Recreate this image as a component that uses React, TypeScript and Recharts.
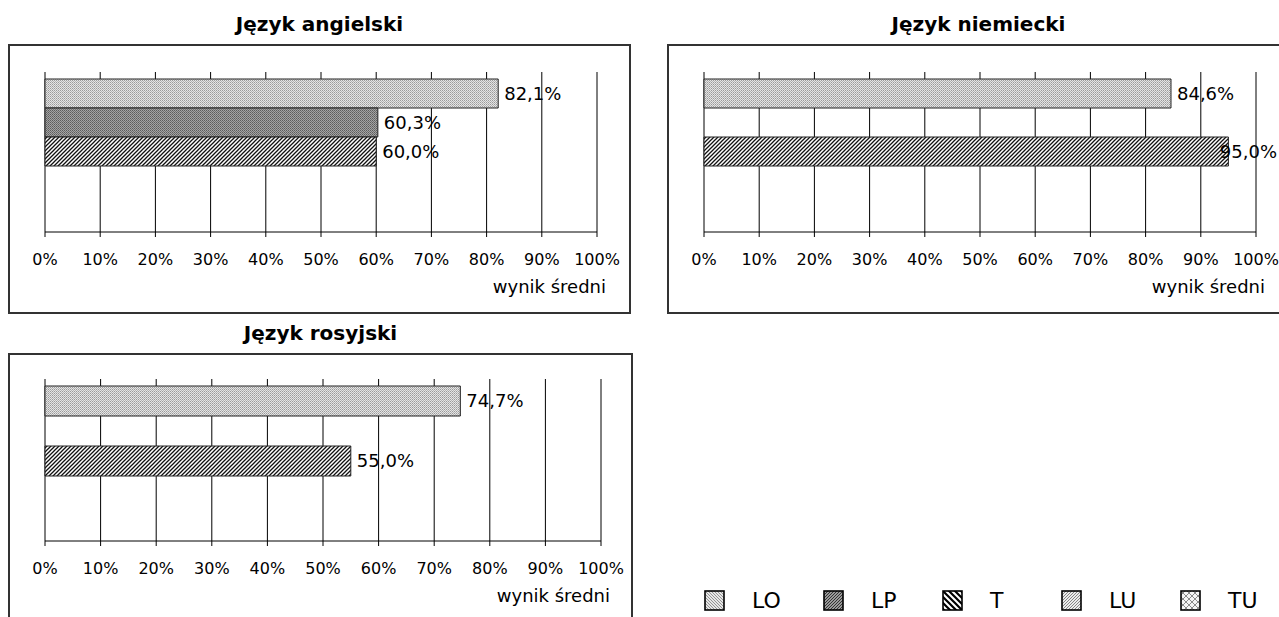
import React from 'react';
import { BarChart, Bar, XAxis, YAxis, CartesianGrid, LabelList } from 'recharts';

// school types (legend order) and mean results per language, in %
const SERIES = ['LO', 'LP', 'T', 'LU', 'TU'];
const ANGIELSKI = [82.1, 60.3, 60.0, null, null];
const NIEMIECKI = [84.6, null, 95.0, null, null];
const ROSYJSKI = [74.7, null, 55.0, null, null];
const TICKS = [0, 10, 20, 30, 40, 50, 60, 70, 80, 90, 100];
const AXIS_TITLE = 'wynik średni';

const FONT = '"DejaVu Sans", "Liberation Sans", sans-serif';
const XAXIS_H = 60;
const LABEL_FS = 18;

const BAR_FILL: Record<string, string> = {
  LO: 'url(#barLO)',
  LP: 'url(#barLP)',
  T: 'url(#barT)',
  LU: 'url(#legLU)',
  TU: 'url(#legTU)',
};
const LEG_FILL: Record<string, string> = {
  LO: 'url(#legLO)',
  LP: 'url(#legLP)',
  T: 'url(#legT)',
  LU: 'url(#legLU)',
  TU: 'url(#legTU)',
};

const fmt = (v: number) => v.toFixed(1).replace('.', ',') + '%';

let ctx: CanvasRenderingContext2D | null = null;
function textWidth(s: string, size: number) {
  if (!ctx) ctx = document.createElement('canvas').getContext('2d');
  if (!ctx) return s.length * size * 0.62;
  ctx.font = `${size}px "DejaVu Sans"`;
  return ctx.measureText(s).width;
}

function PatternDefs() {
  return (
    <svg width={0} height={0} style={{ position: 'absolute', left: 0, top: 0 }}>
      <defs>
        <pattern id="barLO" width={2} height={2} patternUnits="userSpaceOnUse">
          <rect width={2} height={2} fill="#e4e4e4" />
          <rect width={1} height={1} fill="#9a9a9a" />
          <rect x={1} y={1} width={1} height={1} fill="#b4b4b4" />
        </pattern>
        <pattern id="barLP" width={2} height={2} patternUnits="userSpaceOnUse">
          <rect width={2} height={2} fill="#a4a4a4" />
          <rect width={1} height={1} fill="#5c5c5c" />
          <rect x={1} y={1} width={1} height={1} fill="#707070" />
        </pattern>
        <pattern id="barT" width={4} height={4} patternUnits="userSpaceOnUse">
          <rect width={4} height={4} fill="#ffffff" />
          <path d="M-1,1 L1,-1 M0,4 L4,0 M3,5 L5,3" stroke="#111" strokeWidth={1.3} />
        </pattern>
        <pattern id="legLO" width={3} height={3} patternUnits="userSpaceOnUse">
          <rect width={3} height={3} fill="#e6e6e6" />
          <path d="M-1,-1 L4,4 M-1,2 L1,4 M2,-1 L4,1" stroke="#8a8a8a" strokeWidth={0.9} />
        </pattern>
        <pattern id="legLP" width={3} height={3} patternUnits="userSpaceOnUse">
          <rect width={3} height={3} fill="#9a9a9a" />
          <path d="M-1,4 L4,-1 M-1,1 L1,-1 M2,4 L4,2" stroke="#333" strokeWidth={1} />
        </pattern>
        <pattern id="legT" width={6} height={6} patternUnits="userSpaceOnUse">
          <rect width={6} height={6} fill="#ffffff" />
          <path d="M-1,-1 L7,7 M-4,2 L2,8 M2,-4 L8,2" stroke="#000" strokeWidth={2.2} />
        </pattern>
        <pattern id="legLU" width={3} height={3} patternUnits="userSpaceOnUse">
          <rect width={3} height={3} fill="#ececec" />
          <path d="M-1,4 L4,-1 M-1,1 L1,-1 M2,4 L4,2" stroke="#7a7a7a" strokeWidth={0.9} />
        </pattern>
        <pattern id="legTU" width={6} height={6} patternUnits="userSpaceOnUse">
          <rect width={6} height={6} fill="#f4f4f4" />
          <path d="M0,0 L6,6 M6,0 L0,6" stroke="#8a8a8a" strokeWidth={1} />
        </pattern>
      </defs>
    </svg>
  );
}

type Rect = { left: number; top: number; width: number; height: number };

function Panel({ title, values, box, plot, labelReach = 21 }: { title: string; values: (number | null)[]; box: Rect; plot: Rect; labelReach?: number }) {
  const row: Record<string, any> = { name: title };
  SERIES.forEach((s, i) => (row[s] = values[i]));

  const cLeft = box.left + 2;
  const cTop = box.top + 2;
  const cW = box.width - 4;
  const cH = Math.min(box.height - 4, 617 - cTop);
  const margin = {
    left: plot.left - cLeft,
    top: plot.top - cTop,
    right: cW - (plot.left + plot.width - cLeft),
    bottom: cH - (plot.top - cTop) - plot.height - XAXIS_H,
  };
  const maxRight = plot.left + plot.width - cLeft + labelReach;

  const valueLabel = (p: any) => {
    if (p.value == null) return null;
    const vb = p.viewBox && p.viewBox.width != null ? p.viewBox : p;
    const s = fmt(Number(p.value));
    const w = textWidth(s, LABEL_FS);
    const tx = Math.min(vb.x + vb.width + 6, maxRight - w);
    return (
      <text x={tx} y={vb.y + vb.height / 2} dy="0.36em" fontSize={LABEL_FS} fill="#000">
        {s}
      </text>
    );
  };

  const axisTitle = (p: any) => {
    const vb = p.viewBox;
    return (
      <text x={vb.x + vb.width + 9} y={vb.y + 61} textAnchor="end" fontSize={18} fill="#000">
        {AXIS_TITLE}
      </text>
    );
  };

  return (
    <>
      <div
        style={{
          position: 'absolute',
          left: box.left,
          top: box.top - 30,
          width: box.width,
          textAlign: 'center',
          fontWeight: 'bold',
          fontSize: 20,
          lineHeight: '20px',
        }}
      >
        {title}
      </div>
      <div
        style={{
          position: 'absolute',
          left: box.left,
          top: box.top,
          width: box.width,
          height: box.height,
          border: '2px solid #333',
          boxSizing: 'border-box',
        }}
      />
      <div style={{ position: 'absolute', left: cLeft, top: cTop }}>
        <BarChart width={cW} height={cH} layout="vertical" data={[row]} margin={margin} barCategoryGap={7} barGap={0}>
          <CartesianGrid horizontal={false} stroke="#000" strokeWidth={1} />
          <XAxis
            type="number"
            domain={[0, 100]}
            ticks={TICKS}
            interval={0}
            height={XAXIS_H}
            tickFormatter={(v: number) => v + '%'}
            tick={{ fill: '#000', fontSize: 16 }}
            tickSize={5}
            tickMargin={17}
            axisLine={{ stroke: '#000' }}
            tickLine={{ stroke: '#000' }}
            label={axisTitle}
          />
          <XAxis
            xAxisId="top"
            orientation="top"
            type="number"
            domain={[0, 100]}
            ticks={TICKS}
            height={0}
            tick={false}
            tickLine={false}
            axisLine={{ stroke: '#000' }}
          />
          <YAxis type="category" dataKey="name" width={0} tick={false} tickLine={false} axisLine={{ stroke: '#000' }} />
          {SERIES.map((s) => (
            <Bar key={s} dataKey={s} fill={BAR_FILL[s]} stroke="#222" strokeWidth={1} isAnimationActive={false}>
              <LabelList dataKey={s} content={valueLabel} />
            </Bar>
          ))}
        </BarChart>
      </div>
    </>
  );
}

function Legend() {
  return (
    <div style={{ position: 'absolute', left: 704, top: 590, display: 'flex' }}>
      {SERIES.map((s) => (
        <div key={s} style={{ width: 119, height: 21, display: 'flex', alignItems: 'center' }}>
          <svg width={21} height={21} style={{ display: 'block' }}>
            <rect x={1} y={1} width={19} height={19} fill={LEG_FILL[s]} stroke="#000" strokeWidth={1.6} />
          </svg>
          <span style={{ marginLeft: 27, fontSize: 22, lineHeight: '21px' }}>{s}</span>
        </div>
      ))}
    </div>
  );
}

export default function App() {
  return (
    <div
      style={{
        position: 'absolute',
        left: 0,
        top: 0,
        width: 1279,
        height: 617,
        overflow: 'hidden',
        background: '#fff',
        color: '#000',
        fontFamily: FONT,
      }}
    >
      <PatternDefs />
      <Panel title="Język angielski" values={ANGIELSKI} box={{ left: 8, top: 44, width: 623, height: 270 }} plot={{ left: 45, top: 72, width: 552, height: 160 }} />
      <Panel title="Język niemiecki" values={NIEMIECKI} box={{ left: 667, top: 44, width: 623, height: 270 }} plot={{ left: 704, top: 72, width: 552, height: 160 }} />
      <Panel title="Język rosyjski" values={ROSYJSKI} box={{ left: 8, top: 353, width: 625, height: 280 }} plot={{ left: 45, top: 379, width: 556, height: 162 }} />
      <Legend />
    </div>
  );
}
